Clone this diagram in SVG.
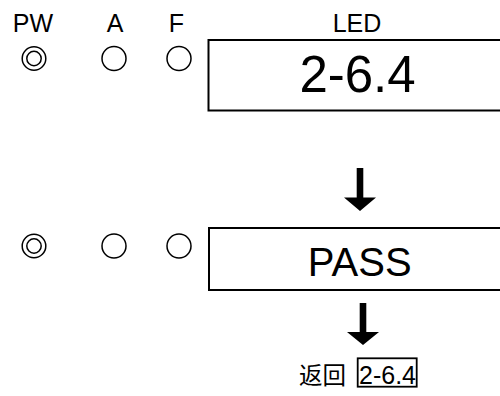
<svg xmlns="http://www.w3.org/2000/svg" width="500" height="396" viewBox="0 0 500 396">
<style>
  .lbl { font-family: "Liberation Sans", Arial, sans-serif; fill: #000; text-anchor: middle; }
  .box { fill: none; stroke: #000; stroke-width: 2; }
  .led { fill: none; stroke: #000; stroke-width: 1.5; }
  .arr { fill: #000; stroke: none; }
</style>
<rect width="500" height="396" fill="#fff"/>
<g id="headers">
  <text class="lbl" x="33" y="31.5" font-size="25">PW</text>
  <text class="lbl" x="115" y="31.5" font-size="25">A</text>
  <text class="lbl" x="176.5" y="31.5" font-size="25">F</text>
  <text class="lbl" x="357" y="31.5" font-size="25">LED</text>
</g>
<g id="row1-leds">
  <circle class="led" cx="34" cy="58.5" r="11.8"/>
  <circle class="led" cx="34" cy="58.5" r="7.2"/>
  <circle class="led" cx="114" cy="58.5" r="12"/>
  <circle class="led" cx="179" cy="58.5" r="12"/>
</g>
<g id="display1">
  <rect class="box" x="208.5" y="40" width="310" height="70.5"/>
  <text class="lbl" x="357.5" y="91.5" font-size="51">2-6.4</text>
</g>
<g id="row2-leds">
  <circle class="led" cx="34" cy="246" r="11.8"/>
  <circle class="led" cx="34" cy="246" r="7.2"/>
  <circle class="led" cx="114" cy="246" r="12"/>
  <circle class="led" cx="179" cy="246" r="12"/>
</g>
<g id="display2">
  <rect class="box" x="209" y="228" width="310" height="62"/>
  <text class="lbl" x="359.7" y="276" font-size="40">PASS</text>
</g>
<g id="return">
  <text x="299" y="384" font-size="23.5" style="font-family: 'Noto Sans CJK SC', 'Noto Sans CJK TC', sans-serif; fill:#000">返回</text>
  <rect x="357.7" y="358.3" width="59" height="28.4" fill="none" stroke="#000" stroke-width="1.8"/>
  <text class="lbl" x="387.5" y="383.5" font-size="25">2-6.4</text>
</g>
<g id="connectors">
  <polygon class="arr" points="356.7,168 363.3,168 363.3,197.5 376,197.5 360,211 344,197.5 356.7,197.5"/>
  <polygon class="arr" points="359.7,303 366.3,303 366.3,332 379,332 363,345 347,332 359.7,332"/>
</g>
</svg>
